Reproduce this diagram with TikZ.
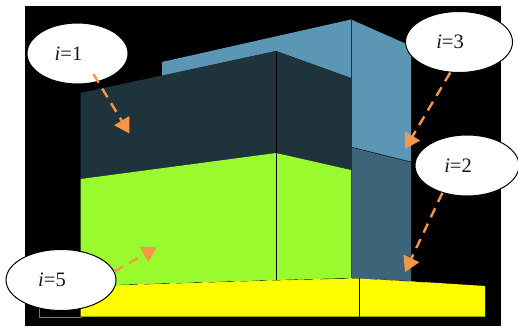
\documentclass[tikz,border=0pt]{standalone}
\usepackage{fontspec}
\setmainfont{Liberation Serif}
\usetikzlibrary{arrows.meta,shapes.geometric}
\definecolor{steelface}{HTML}{5B96B5}
\definecolor{steelshade}{HTML}{3D6479}
\definecolor{darkface}{HTML}{1F333D}
\definecolor{limeface}{HTML}{99FB2E}
\definecolor{baseface}{HTML}{FFFF00}
\definecolor{basetrim}{HTML}{00CC00}
\definecolor{pointercol}{HTML}{F79646}

\begin{document}
\begin{tikzpicture}[
  x=1pt,
  y=-1pt,
  font=\fontsize{20.5}{23}\selectfont,
  callout/.style={
    ellipse,
    draw=black,
    fill=white,
    line width=1pt,
    inner sep=0pt,
    minimum width=#1,
    minimum height=61pt,
    text=black!90,
    execute at end node={\hspace{18pt}}
  },
  pointer/.style={
    draw=pointercol,
    line width=2.4pt,
    dash pattern=on 10pt off 7pt,
    -{Triangle[length=15pt,width=17pt,fill=pointercol]}
  },
  edge/.style={black, line width=0.8pt}
]
\useasboundingbox (0,0) rectangle (518,326);

% Background
\fill[white] (0,0) rectangle (518,326);
\fill[black] (25,6) rectangle (501,326);

% Base
\draw[draw=basetrim, line width=1pt] (39,300) -- (39,317.5) -- (81,317.5);
\fill[baseface] (80.5,286) -- (276,280) -- (359.5,278) -- (485,286) -- (485,316.5) -- (80.5,316.5) -- cycle;
\draw[edge, dash pattern=on 9pt off 7pt, line width=0.7pt] (80.5,286) -- (276,280) -- (359.5,278) -- (425,282);
\draw[edge] (359.5,278) -- (359.5,316.5);

% Rear block
\fill[steelface] (162,62) -- (351,19.5) -- (351,78) -- (276,51) -- (162,76) -- cycle;
\fill[steelface] (351,19.5) -- (411,46) -- (411,162) -- (351,147) -- cycle;
\fill[steelshade] (351,147) -- (411,162) -- (411,281) -- (351,278) -- cycle;
\draw[edge, dash pattern=on 3pt off 1pt, line width=0.5pt] (351,147) -- (411,162);
\draw[darkface, line width=0.9pt] (351,19.5) -- (351,278);

% Front block
\fill[darkface] (80.5,93) -- (276,51) -- (351,78) -- (351,170) -- (276,153) -- (80.5,179) -- cycle;
\fill[limeface] (80.5,179) -- (276,153) -- (351,170) -- (351,278) -- (276,280) -- (80.5,286) -- cycle;
\draw[edge] (276,51) -- (276,280);

% Callouts
\node[callout=101pt] (ione) at (77.5,53.5) {\textit{i}=1};
\node[callout=107pt] (ithree) at (459,42) {\textit{i}=3};
\node[callout=104pt] (itwo) at (467,165.5) {\textit{i}=2};
\node[callout=110pt] (ifive) at (61,280) {\textit{i}=5};

\coordinate (tipone) at (129.5,133.5);
\coordinate (tipthree) at (405,149);
\coordinate (tiptwo) at (405,272);
\coordinate (tipfive) at (157,247);

% Pointers
\draw[pointer, shorten <=-9pt] (ione.-54.5) -- (tipone);
\draw[pointer] (ithree.-106) -- (tipthree);
\draw[pointer] (itwo.-132) -- (tiptwo);
\draw[pointer] (ifive.9) -- (tipfive);

\end{tikzpicture}
\end{document}
